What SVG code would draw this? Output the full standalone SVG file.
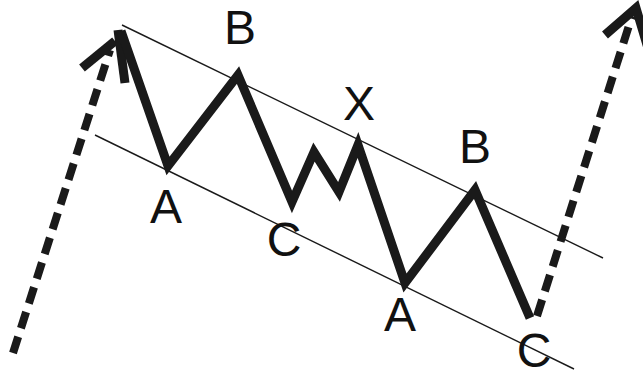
<svg xmlns="http://www.w3.org/2000/svg" width="643" height="378" viewBox="0 0 643 378">
<style>
.ch{stroke:#1a1a1a;stroke-width:1.4;fill:none}
.zz{stroke:#1a1a1a;stroke-width:9;fill:none;stroke-linejoin:miter;stroke-linecap:butt}
.ds{stroke:#1a1a1a;stroke-width:8;fill:none;stroke-dasharray:17 9}
.hd{stroke:#1a1a1a;stroke-width:9;fill:none;stroke-linecap:butt;stroke-linejoin:miter}
.lb{font-family:"Liberation Sans",Arial,sans-serif;font-size:48px;fill:#111;text-anchor:middle}
</style>
<rect width="643" height="378" fill="#fff"/>
<g id="channel">
<line class="ch" x1="122" y1="25" x2="603" y2="258"/>
<line class="ch" x1="95" y1="135" x2="574" y2="369"/>
</g>
<g id="connectors">
<line class="ds" x1="13" y1="353" x2="110" y2="50"/>
<polyline class="hd" points="82,68 115,41"/>
<line class="hd" x1="118" y1="30" x2="125" y2="83"/>
<line class="ds" x1="537" y1="316" x2="632" y2="16"/>
<polyline class="hd" points="605,35 636,8 650,55"/>
</g>
<g id="wave">
<polyline class="zz" points="121,31 168,166 238,75 292,202 314,152 339,192 358,145 405,283 475,190 530,318"/>
</g>
<g id="labels">
<text class="lb" x="240" y="44">B</text>
<text class="lb" x="166" y="223">A</text>
<text class="lb" x="284" y="256">C</text>
<text class="lb" x="359" y="120">X</text>
<text class="lb" x="475" y="163">B</text>
<text class="lb" x="400" y="331">A</text>
<text class="lb" x="534" y="367">C</text>
</g>
</svg>
